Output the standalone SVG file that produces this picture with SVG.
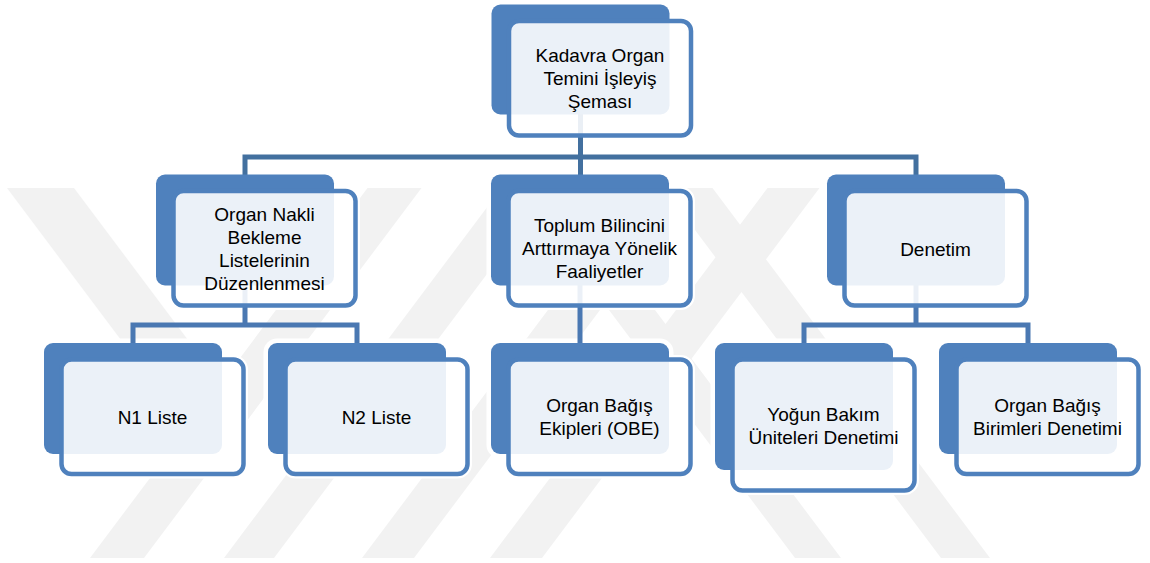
<svg xmlns="http://www.w3.org/2000/svg" width="1150" height="563" viewBox="0 0 1150 563">
<style>
.wm{fill:#f2f2f2}
.halo{fill:#ffffff;stroke:#ffffff;stroke-width:9}
.back{fill:#4f81bd}
.front{fill:#ffffff;fill-opacity:0.89;stroke:#4f81bd;stroke-width:4.5}
.conn{fill:none;stroke:#4a78b2;stroke-width:5;stroke-linejoin:miter;stroke-linecap:butt}
.top{stroke:#43709f}
.lbl{font-family:"Liberation Sans",Arial,sans-serif;font-size:19px;fill:#000;text-anchor:middle}
</style>
<defs>
<clipPath id="wmclip"><rect x="0" y="188" width="1150" height="370"/></clipPath>
</defs>
<rect x="0" y="0" width="1150" height="563" fill="#ffffff"/>
<g id="watermark" clip-path="url(#wmclip)">
<polygon class="wm" points="90,558 144,558 421.5,188 367.5,188"/>
<polygon class="wm" points="224,558 274,558 551.5,188 501.5,188"/>
<polygon class="wm" points="362,558 414,558 691.5,188 639.5,188"/>
<polygon class="wm" points="490,558 542,558 819.5,188 767.5,188"/>
<polygon class="wm" points="795,558 841,558 563.5,188 517.5,188"/>
<polygon class="wm" points="941,558 990,558 712.5,188 663.5,188"/>
<polygon class="wm" points="7,188 74,188 248,420 181,420"/>
</g>
<g id="halos">
<rect class="halo" x="491.5" y="4.5" width="178" height="110" rx="9"/><rect class="halo" x="509" y="21" width="182" height="114.5" rx="10"/>
<rect class="halo" x="156" y="174.5" width="178" height="111" rx="9"/><rect class="halo" x="173.5" y="191" width="182" height="114.5" rx="10"/>
<rect class="halo" x="491" y="174.5" width="178" height="111" rx="9"/><rect class="halo" x="508.5" y="191" width="182" height="114.5" rx="10"/>
<rect class="halo" x="827" y="174.5" width="178" height="111" rx="9"/><rect class="halo" x="844.5" y="191" width="182" height="114.5" rx="10"/>
<rect class="halo" x="44" y="343" width="178" height="111" rx="9"/><rect class="halo" x="61.5" y="359.5" width="182" height="114.5" rx="10"/>
<rect class="halo" x="268" y="343" width="178" height="111" rx="9"/><rect class="halo" x="285.5" y="359.5" width="182" height="114.5" rx="10"/>
<rect class="halo" x="491" y="343" width="178" height="111" rx="9"/><rect class="halo" x="508.5" y="359.5" width="182" height="114.5" rx="10"/>
<rect class="halo" x="715" y="343" width="178" height="127" rx="9"/><rect class="halo" x="732.5" y="359.5" width="182" height="131" rx="10"/>
<rect class="halo" x="939" y="343" width="178" height="111" rx="9"/><rect class="halo" x="956.5" y="359.5" width="182" height="114.5" rx="10"/>
</g>
<g id="connectors">
<path class="conn top" d="M580.5,112 V157 M245,176 V157 H916 V176 M580.5,157 V176"/>
<path class="conn" d="M245,285 V325 M133,344 V325 H357 V344"/>
<path class="conn" d="M580,285 V344"/>
<path class="conn" d="M916,285 V325 M804,344 V325 H1028 V344"/>
</g>
<g id="node-root">
<rect class="back" x="491.5" y="4.5" width="178" height="110" rx="9"/>
<rect class="front" x="509" y="21" width="182" height="114.5" rx="10"/>
<text class="lbl"><tspan x="600" y="62">Kadavra Organ</tspan><tspan x="600" y="85">Temini İşleyiş</tspan><tspan x="600" y="108">Şeması</tspan></text>
</g>
<g id="node-bekleme">
<rect class="back" x="156" y="174.5" width="178" height="111" rx="9"/>
<rect class="front" x="173.5" y="191" width="182" height="114.5" rx="10"/>
<text class="lbl"><tspan x="264.5" y="220.5">Organ Nakli</tspan><tspan x="264.5" y="243.5">Bekleme</tspan><tspan x="264.5" y="266.5">Listelerinin</tspan><tspan x="264.5" y="289.5">Düzenlenmesi</tspan></text>
</g>
<g id="node-toplum">
<rect class="back" x="491" y="174.5" width="178" height="111" rx="9"/>
<rect class="front" x="508.5" y="191" width="182" height="114.5" rx="10"/>
<text class="lbl"><tspan x="599.5" y="232">Toplum Bilincini</tspan><tspan x="599.5" y="255">Arttırmaya Yönelik</tspan><tspan x="599.5" y="278">Faaliyetler</tspan></text>
</g>
<g id="node-denetim">
<rect class="back" x="827" y="174.5" width="178" height="111" rx="9"/>
<rect class="front" x="844.5" y="191" width="182" height="114.5" rx="10"/>
<text class="lbl" x="935.5" y="255.5">Denetim</text>
</g>
<g id="node-n1">
<rect class="back" x="44" y="343" width="178" height="111" rx="9"/>
<rect class="front" x="61.5" y="359.5" width="182" height="114.5" rx="10"/>
<text class="lbl" x="152.5" y="423.5">N1 Liste</text>
</g>
<g id="node-n2">
<rect class="back" x="268" y="343" width="178" height="111" rx="9"/>
<rect class="front" x="285.5" y="359.5" width="182" height="114.5" rx="10"/>
<text class="lbl" x="376.5" y="423.5">N2 Liste</text>
</g>
<g id="node-obe">
<rect class="back" x="491" y="343" width="178" height="111" rx="9"/>
<rect class="front" x="508.5" y="359.5" width="182" height="114.5" rx="10"/>
<text class="lbl"><tspan x="599.5" y="412">Organ Bağış</tspan><tspan x="599.5" y="435">Ekipleri (OBE)</tspan></text>
</g>
<g id="node-yogun">
<rect class="back" x="715" y="343" width="178" height="127" rx="9"/>
<rect class="front" x="732.5" y="359.5" width="182" height="131" rx="10"/>
<text class="lbl"><tspan x="823.5" y="420.5">Yoğun Bakım</tspan><tspan x="823.5" y="443.5">Üniteleri Denetimi</tspan></text>
</g>
<g id="node-birimleri">
<rect class="back" x="939" y="343" width="178" height="111" rx="9"/>
<rect class="front" x="956.5" y="359.5" width="182" height="114.5" rx="10"/>
<text class="lbl"><tspan x="1047.5" y="412">Organ Bağış</tspan><tspan x="1047.5" y="435">Birimleri Denetimi</tspan></text>
</g>
</svg>
